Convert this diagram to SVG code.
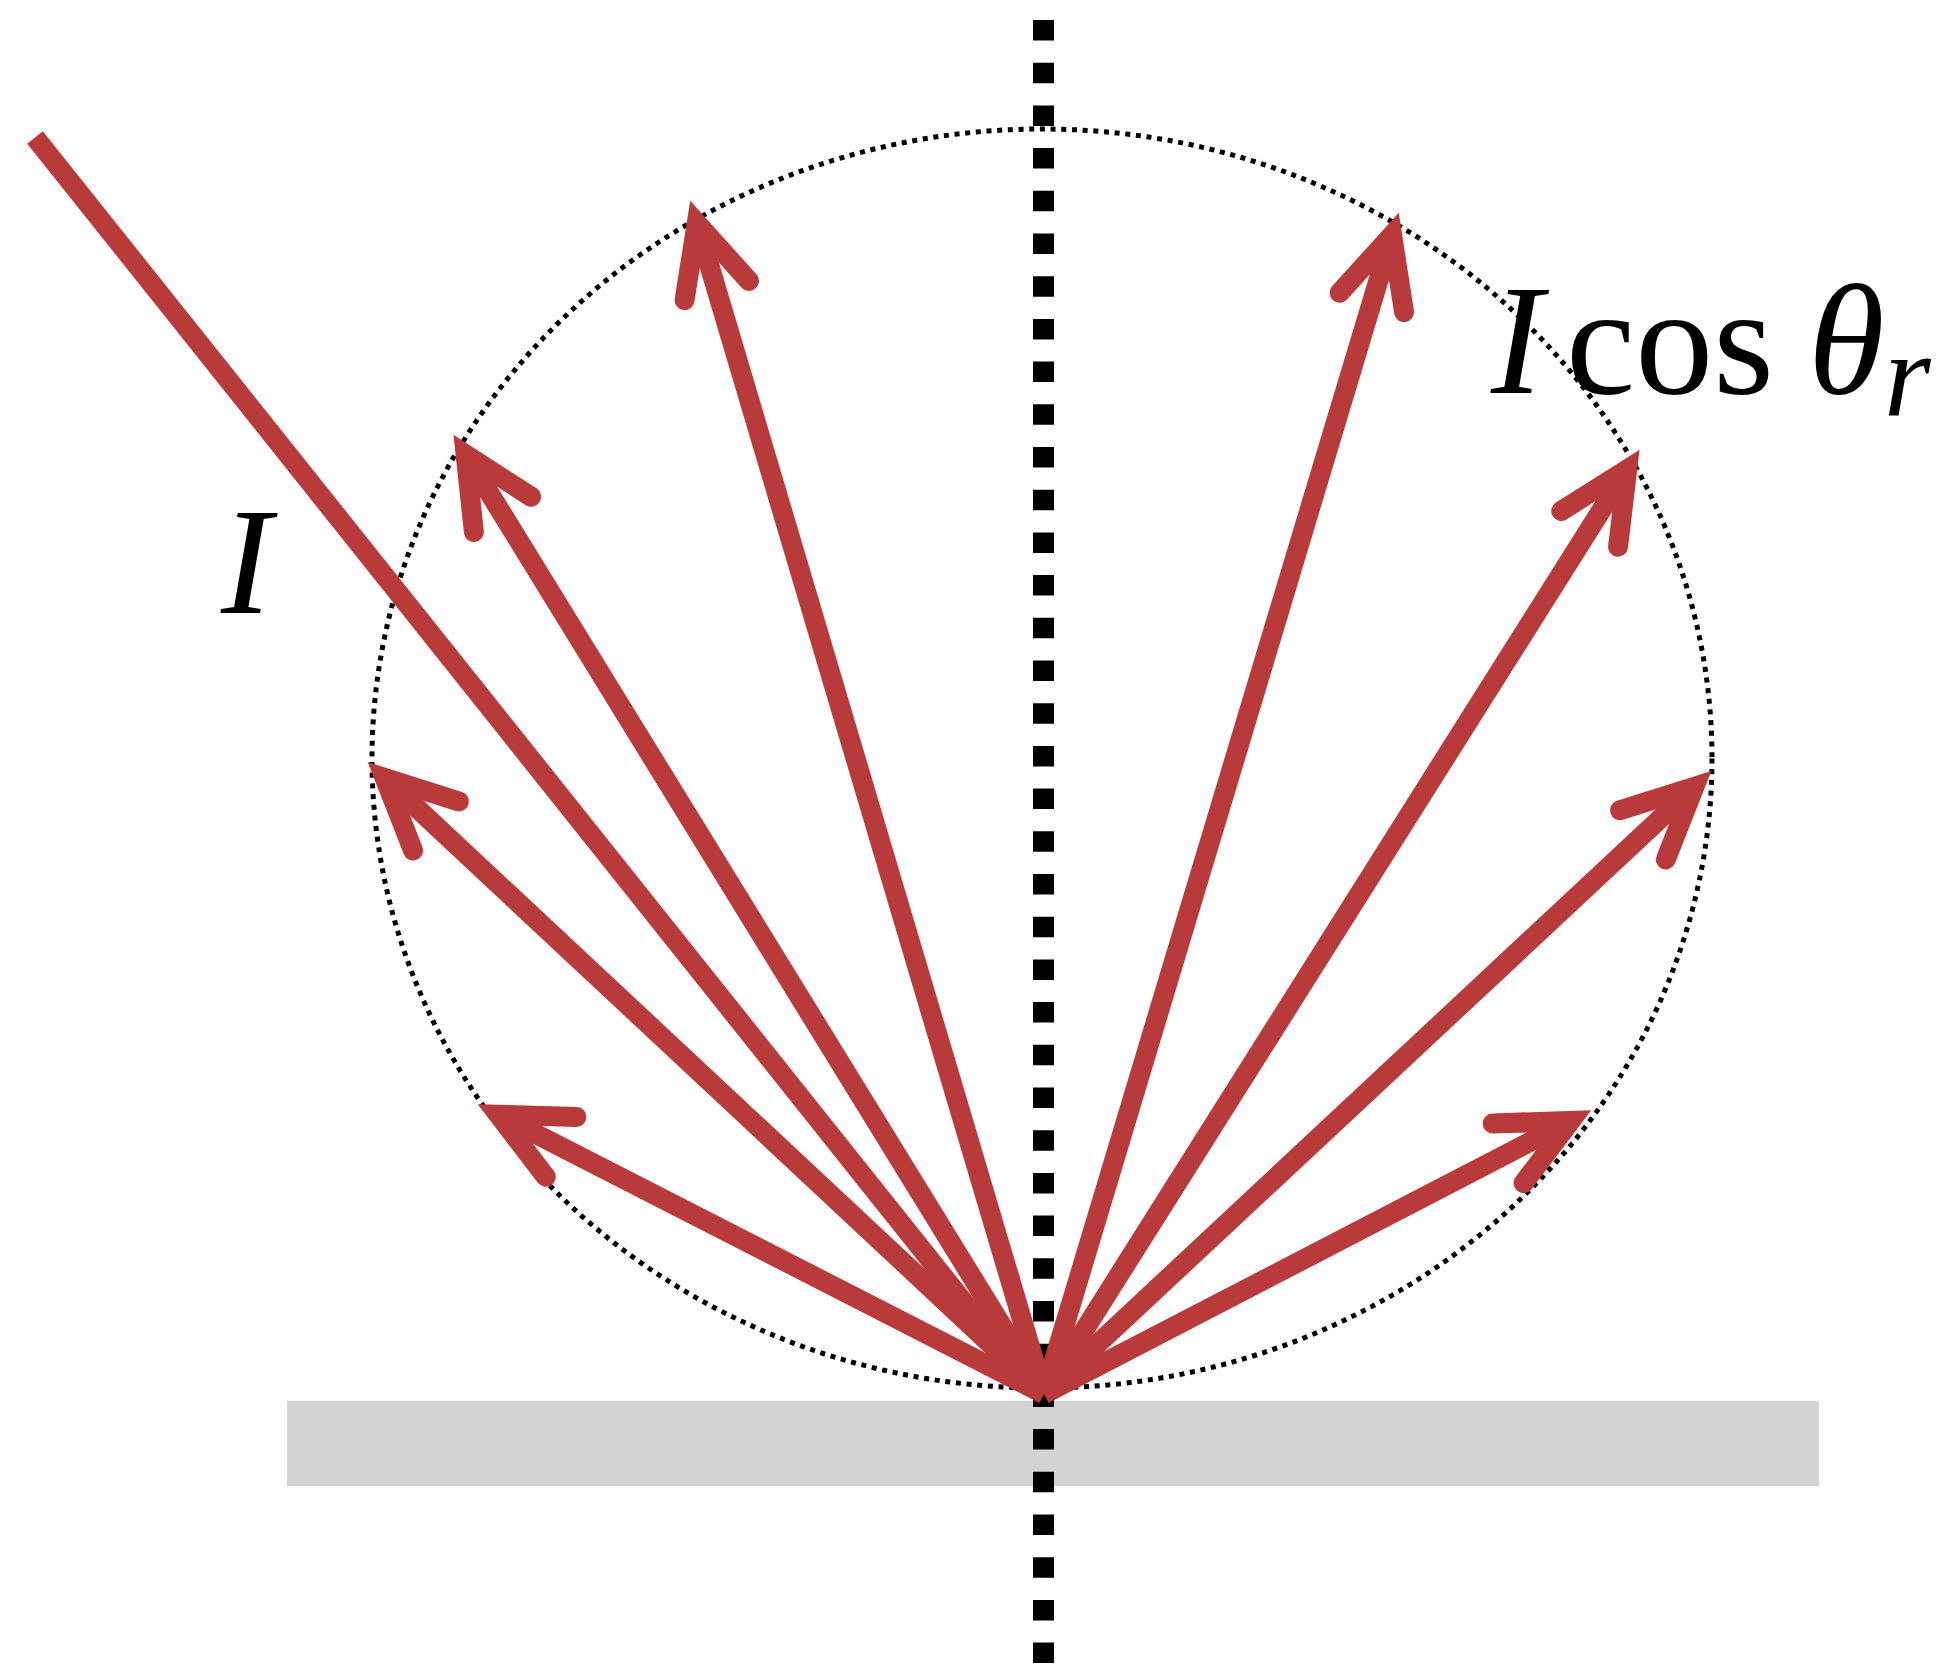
<svg xmlns="http://www.w3.org/2000/svg" width="1946" height="1666" viewBox="0 0 1946 1666">
<style>
.ray{stroke:#b93a3b;stroke-width:20;fill:none;stroke-linecap:butt;marker-end:url(#ah)}
.inc{stroke:#b93a3b;stroke-width:20;fill:none;stroke-linecap:butt}
.lbl{font-family:"Liberation Serif","Times New Roman",serif;fill:#000}
</style>
<defs>
<marker id="ah" markerUnits="userSpaceOnUse" viewBox="-110 -60 150 120" markerWidth="150" markerHeight="120" refX="0" refY="0" orient="auto" overflow="visible">
<path d="M-70.4,-33.6 L0,0 L-70.4,33.6" fill="none" stroke="#b93a3b" stroke-width="20" stroke-linecap="round" stroke-linejoin="miter" stroke-miterlimit="10"/>
</marker>
</defs>
<rect id="surface" x="287" y="1401" width="1532" height="85" fill="#d3d3d3"/>
<line id="normal" x1="1043.5" y1="20" x2="1043.5" y2="1666" stroke="#000" stroke-width="21" stroke-dasharray="20.5 22.2"/>
<ellipse id="lobe" cx="1042" cy="758.5" rx="670" ry="629.5" fill="none" stroke="#000" stroke-width="5" stroke-dasharray="5 5.7"/>
<g id="connectors">
<line id="incident" class="inc" x1="35" y1="137.4" x2="1010" y2="1360"/>
<polygon id="incident-head" points="1041,1399 983,1374 1029.5,1337" fill="#b93a3b"/>
<line id="ray1" class="ray" x1="1044" y1="1394" x2="696.8" y2="223"/>
<line id="ray2" class="ray" x1="1044" y1="1394" x2="465.6" y2="454.4"/>
<line id="ray3" class="ray" x1="1044" y1="1394" x2="384.6" y2="777.9"/>
<line id="ray4" class="ray" x1="1044" y1="1394" x2="498.4" y2="1114.8"/>
<line id="ray5" class="ray" x1="1044" y1="1394" x2="1392.1" y2="235"/>
<line id="ray6" class="ray" x1="1044" y1="1394" x2="1627.2" y2="469.3"/>
<line id="ray7" class="ray" x1="1044" y1="1394" x2="1694.4" y2="786.8"/>
<line id="ray8" class="ray" x1="1044" y1="1394" x2="1570.6" y2="1120.9"/>
</g>
<g id="label-incident">
<text class="lbl" x="221" y="613" font-size="152" font-style="italic">I</text>
</g>
<g id="label-reflected">
<text class="lbl" y="393" font-size="156"><tspan x="1491" font-style="italic">I</tspan><tspan x="1566">cos</tspan><tspan x="1808" font-style="italic">θ</tspan></text>
<text class="lbl" x="1884" y="416" font-size="120" font-style="italic">r</text>
</g>
</svg>
